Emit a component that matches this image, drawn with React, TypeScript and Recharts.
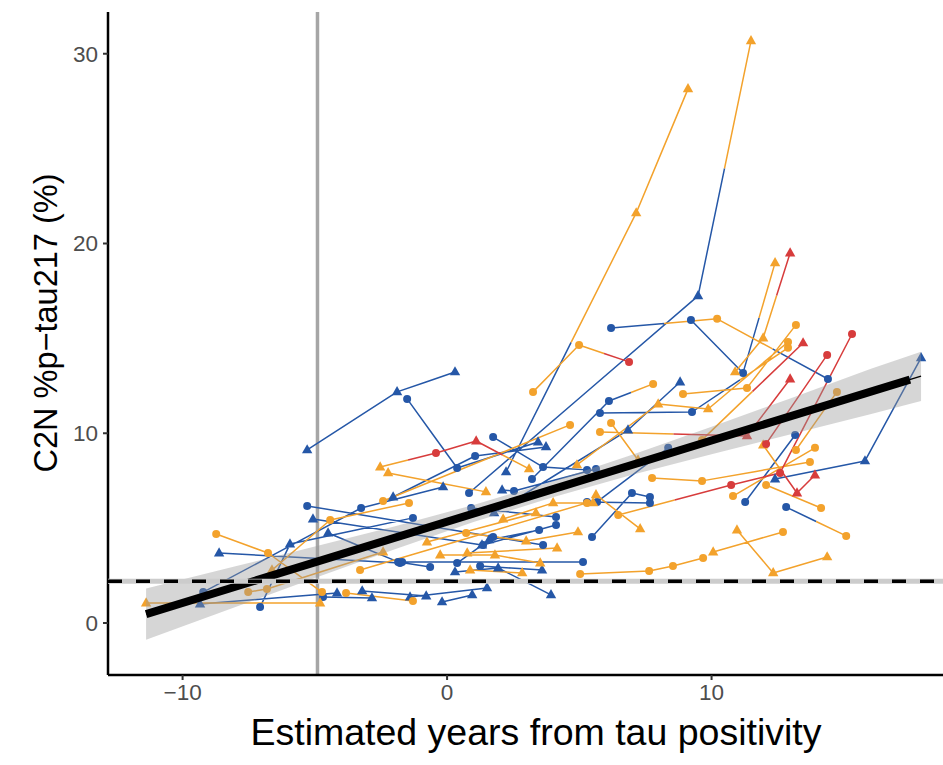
import React from 'react';
import { ComposedChart, Line, Scatter, Area, XAxis, YAxis, ReferenceLine } from 'recharts';

type Pt = [number, number, string];

// Each subject: [years from tau positivity, C2N %p-tau217, status code] (b/o/r colour + c/t shape)
const subjects: Pt[][] = [
  [[-5.29, 9.12, 'bt'], [-1.89, 12.18, 'bt'], [0.30, 13.23, 'bt']],
  [[-1.51, 11.81, 'bc'], [0.38, 8.17, 'bc'], [3.44, 9.54, 'bt']],
  [[-2.04, 6.64, 'bt'], [1.06, 8.80, 'bc'], [3.74, 9.28, 'bt']],
  [[-2.53, 8.22, 'ot'], [-0.42, 8.96, 'rc'], [1.10, 9.59, 'rt'], [3.10, 8.12, 'ot']],
  [[-2.23, 7.91, 'ot'], [1.47, 6.91, 'ot']],
  [[-2.42, 6.43, 'oc'], [4.65, 10.44, 'oc']],
  [[3.25, 12.18, 'oc'], [4.99, 14.65, 'oc'], [6.88, 13.76, 'rc']],
  [[2.23, 7.96, 'bt'], [7.15, 21.61, 'ot'], [9.11, 28.15, 'ot']],
  [[0.83, 6.85, 'bc'], [9.49, 17.24, 'bt'], [11.49, 30.68, 'ot']],
  [[1.74, 9.80, 'bc'], [3.63, 8.22, 'bc'], [5.29, 8.07, 'bc']],
  [[6.20, 15.55, 'bc'], [10.21, 16.03, 'oc'], [14.40, 12.86, 'bc']],
  [[9.22, 15.97, 'bc'], [11.19, 13.18, 'bc'], [12.40, 18.98, 'ot']],
  [[10.89, 13.23, 'ot'], [11.95, 15.02, 'ot'], [12.97, 19.50, 'rt']],
  [[3.21, 7.59, 'bc'], [6.12, 11.70, 'bc'], [7.79, 12.60, 'oc']],
  [[8.92, 12.07, 'oc'], [11.34, 12.39, 'oc'], [13.19, 15.71, 'oc']],
  [[1.78, 5.80, 'bt'], [6.84, 10.17, 'bt'], [8.81, 12.70, 'bt']],
  [[5.78, 11.07, 'bc'], [9.26, 11.12, 'bc'], [12.89, 14.50, 'oc']],
  [[4.91, 8.33, 'ot'], [7.98, 11.54, 'ot'], [9.87, 11.28, 'ot'], [12.89, 14.81, 'oc']],
  [[5.78, 10.07, 'oc'], [11.34, 9.86, 'rt'], [12.97, 12.86, 'rt']],
  [[12.06, 9.44, 'rc'], [14.37, 14.13, 'rc']],
  [[6.20, 10.54, 'oc'], [7.22, 8.59, 'ot']],
  [[7.75, 7.64, 'oc'], [9.64, 7.49, 'oc'], [13.72, 8.49, 'oc']],
  [[5.67, 6.38, 'bc'], [8.36, 9.23, 'bc']],
  [[6.47, 5.69, 'oc'], [10.74, 7.27, 'rc'], [12.59, 7.91, 'rc'], [15.31, 15.23, 'rc']],
  [[11.95, 9.38, 'ot'], [13.23, 6.85, 'rt'], [13.91, 7.80, 'rt']],
  [[12.40, 7.59, 'bt'], [15.80, 8.54, 'bt'], [17.92, 13.97, 'bt']],
  [[11.27, 6.38, 'bc'], [13.16, 9.91, 'bc']],
  [[10.81, 6.69, 'oc'], [13.91, 9.23, 'oc']],
  [[13.19, 9.12, 'oc'], [14.74, 12.18, 'oc']],
  [[12.06, 7.27, 'oc'], [14.14, 6.06, 'oc']],
  [[12.82, 6.11, 'bc'], [15.09, 4.59, 'oc']],
  [[5.03, 2.58, 'oc'], [7.64, 2.74, 'oc'], [8.54, 3.00, 'oc'], [9.68, 3.43, 'oc']],
  [[10.06, 3.74, 'ot'], [12.70, 4.80, 'oc']],
  [[10.96, 4.90, 'ot'], [12.33, 2.64, 'ot'], [14.37, 3.48, 'ot']],
  [[5.63, 6.75, 'ot'], [7.30, 4.96, 'ot']],
  [[5.29, 6.38, 'bc'], [7.67, 6.33, 'bc']],
  [[5.48, 4.53, 'bc'], [6.99, 6.85, 'bc'], [7.67, 6.64, 'bc']],
  [[2.08, 7.01, 'bt'], [2.53, 6.96, 'bc'], [5.63, 8.12, 'bc']],
  [[0.91, 6.06, 'bc'], [4.12, 5.59, 'bc']],
  [[2.12, 5.48, 'ot'], [4.01, 6.33, 'ot'], [5.52, 6.33, 'ot']],
  [[-0.76, 4.27, 'ot'], [3.36, 5.80, 'ot']],
  [[0.72, 4.74, 'oc'], [2.99, 4.32, 'ot'], [4.95, 4.80, 'ot']],
  [[1.36, 4.11, 'bc'], [4.12, 5.17, 'bc']],
  [[1.59, 4.38, 'bt'], [3.48, 4.90, 'bc']],
  [[0.38, 3.16, 'bc'], [1.74, 4.53, 'bc']],
  [[-0.26, 3.58, 'ot'], [1.81, 3.58, 'ot'], [3.52, 3.16, 'ot']],
  [[0.76, 3.69, 'ot'], [4.16, 3.95, 'ot']],
  [[1.25, 3.00, 'bc'], [3.59, 2.79, 'bt']],
  [[0.30, 2.69, 'bt'], [1.93, 2.90, 'bt'], [3.93, 1.48, 'bt']],
  [[0.87, 2.79, 'ot'], [2.84, 2.64, 'ot']],
  [[-0.19, 1.11, 'bt'], [0.95, 1.48, 'bt']],
  [[-1.40, 1.37, 'bt'], [1.51, 1.85, 'bt']],
  [[-3.21, 1.69, 'bt'], [-0.79, 1.42, 'bt']],
  [[-3.82, 1.58, 'oc'], [-1.29, 1.16, 'oc']],
  [[-4.69, 1.37, 'bc'], [-2.84, 1.32, 'bt']],
  [[9.64, 9.65, 'oc'], [13.46, 14.76, 'rt']],
  [[-11.38, 1.05, 'ot'], [-4.80, 1.05, 'ot']],
  [[-9.34, 1.00, 'bt'], [-4.16, 1.58, 'bt']],
  [[-9.22, 1.63, 'bc'], [-3.25, 6.06, 'bc'], [-0.15, 7.17, 'bt']],
  [[-8.62, 3.69, 'bt'], [-1.78, 3.16, 'bc']],
  [[-8.73, 4.69, 'oc'], [-6.77, 3.69, 'oc'], [-4.73, 1.63, 'oc']],
  [[-7.07, 0.84, 'bc'], [-5.94, 4.16, 'bt'], [-1.29, 5.54, 'bc']],
  [[-7.52, 1.63, 'oc'], [-6.81, 1.79, 'oc'], [-2.42, 3.74, 'ot']],
  [[-6.62, 2.79, 'ot'], [-4.42, 5.43, 'oc'], [-1.44, 6.33, 'oc']],
  [[-5.07, 5.48, 'bt'], [1.32, 4.11, 'bt']],
  [[-5.29, 6.17, 'bc'], [3.63, 4.11, 'bc']],
  [[-4.50, 4.74, 'bt'], [-1.85, 3.22, 'bc'], [-0.64, 2.95, 'bc']],
  [[-3.29, 2.79, 'oc'], [5.29, 6.33, 'oc']],
  [[-1.70, 3.22, 'bc'], [5.14, 3.22, 'bc']],
];

// Linear fit and its confidence band
const fitX = [-11.38, 17.5];
const fitY = [0.47, 12.83];
const fitThinX = [-11.38, 17.92];
const fitThinY = [0.47, 13.01];
const ribbonX = [-11.38, -8, -5, -2, 1, 4, 7, 10, 13, 16, 17.92];
const ribbonLo = [-0.88, 0.85, 2.37, 3.87, 5.32, 6.63, 7.81, 8.90, 9.95, 11.00, 11.70];
const ribbonHi = [1.82, 2.99, 4.03, 5.09, 6.22, 7.47, 8.87, 10.34, 11.85, 13.38, 14.30];

const threshold = 2.2;
const tauPosRef = -4.9;
const xTicks = [-10, 0, 10];
const yTicks = [0, 10, 20, 30];

const FONT = '"Liberation Sans", Arial, Helvetica, sans-serif';
const COLORS: Record<string, string> = { b: '#2557a7', o: '#f3a22c', r: '#d73c3c' };

function segmentData(c: string) {
  const out: { x: number; y: number | null }[] = [];
  subjects.forEach((s) => {
    for (let i = 0; i < s.length - 1; i++) {
      const a = s[i];
      const b = s[i + 1];
      const mx = (a[0] + b[0]) / 2;
      const my = (a[1] + b[1]) / 2;
      if (a[2][0] === c) out.push({ x: a[0], y: a[1] }, { x: mx, y: my }, { x: mx, y: null });
      if (b[2][0] === c) out.push({ x: mx, y: my }, { x: b[0], y: b[1] }, { x: b[0], y: null });
    }
  });
  return out;
}

function pointData(code: string) {
  const out: { x: number; y: number }[] = [];
  subjects.forEach((s) => s.forEach((p) => { if (p[2] === code) out.push({ x: p[0], y: p[1] }); }));
  return out;
}

const makeShape = (code: string) => (props: any) => {
  const { cx, cy } = props;
  const fill = COLORS[code[0]];
  if (code[1] === 'c') return <circle cx={cx} cy={cy} r={4} fill={fill} />;
  return <polygon points={`${cx},${cy - 5.8} ${cx - 5.2},${cy + 3.4} ${cx + 5.2},${cy + 3.4}`} fill={fill} />;
};

const ribbonData = ribbonX.map((x, i) => ({ x, range: [ribbonLo[i], ribbonHi[i]] }));
const fitData = fitX.map((x, i) => ({ x, y: fitY[i] }));
const fitThinData = fitThinX.map((x, i) => ({ x, y: fitThinY[i] }));
const codes = ['bc', 'bt', 'oc', 'ot', 'rc', 'rt'];
const lineColors = ['b', 'o', 'r'];

const XTitle = () => (
  <text x={536} y={745} textAnchor="middle" fontSize={37.5} fontFamily={FONT} fill="#000">
    Estimated years from tau positivity
  </text>
);
const YTitle = () => (
  <text x={0} y={0} transform="translate(57,323) rotate(-90)" textAnchor="middle" fontSize={32.5} fontFamily={FONT} fill="#000">
    C2N %p−tau217 (%)
  </text>
);

export default function App() {
  return (
    <div style={{ position: 'absolute', left: 0, top: 0, background: '#fff' }}>
      <ComposedChart width={943} height={765} margin={{ top: 12, right: 0, bottom: 0, left: 0 }}>
        <XAxis
          type="number"
          dataKey="x"
          domain={[-12.82, 18.75]}
          ticks={xTicks}
          allowDataOverflow
          height={90}
          tickSize={5}
          tickMargin={4}
          axisLine={{ stroke: '#000', strokeWidth: 2.5 }}
          tickLine={{ stroke: '#333', strokeWidth: 2 }}
          tick={{ fontSize: 22.5, fill: '#4d4d4d', fontFamily: FONT }}
          tickFormatter={(v: number) => (v < 0 ? `−${Math.abs(v)}` : `${v}`)}
          label={{ content: XTitle }}
        />
        <YAxis
          type="number"
          dataKey="y"
          domain={[-2.74, 32.2]}
          ticks={yTicks}
          allowDataOverflow
          width={108}
          tickSize={5}
          tickMargin={5}
          axisLine={{ stroke: '#000', strokeWidth: 2.5 }}
          tickLine={{ stroke: '#333', strokeWidth: 2 }}
          tick={{ fontSize: 22.5, fill: '#4d4d4d', fontFamily: FONT }}
          label={{ content: YTitle }}
        />
        <ReferenceLine x={tauPosRef} stroke="#a6a6a6" strokeWidth={3.5} zIndex={50} />
        {lineColors.map((c) => (
          <Line
            key={'l' + c}
            data={segmentData(c)}
            dataKey="y"
            type="linear"
            stroke={COLORS[c]}
            strokeWidth={1.5}
            dot={false}
            activeDot={false}
            connectNulls={false}
            isAnimationActive={false}
            zIndex={400}
          />
        ))}
        {codes.map((code) => (
          <Scatter
            key={'s' + code}
            data={pointData(code)}
            dataKey="y"
            shape={makeShape(code)}
            isAnimationActive={false}
            zIndex={600}
          />
        ))}
        <Area
          data={ribbonData}
          dataKey="range"
          type="linear"
          stroke="none"
          fill="#999999"
          fillOpacity={0.4}
          isAnimationActive={false}
          zIndex={650}
        />
        <Line data={fitThinData} dataKey="y" type="linear" stroke="#000" strokeWidth={1.5} dot={false} activeDot={false} isAnimationActive={false} zIndex={700} />
        <Line data={fitData} dataKey="y" type="linear" stroke="#000" strokeWidth={8} dot={false} activeDot={false} isAnimationActive={false} zIndex={700} />
        <ReferenceLine y={threshold} stroke="#cccccc" strokeWidth={5} zIndex={750} />
        <ReferenceLine y={threshold} stroke="#000" strokeWidth={3.5} strokeDasharray="14 14" zIndex={760} />
      </ComposedChart>
    </div>
  );
}
